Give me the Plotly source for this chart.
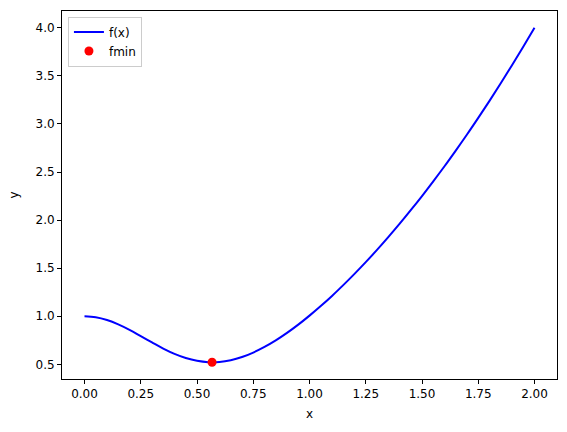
import plotly.graph_objects as go

x_vals = [0.00, 0.05, 0.10, 0.15, 0.20, 0.25, 0.30, 0.35, 0.40, 0.45,
          0.50, 0.55, 0.60, 0.65, 0.70, 0.75, 0.80, 0.85, 0.90, 0.95,
          1.00, 1.05, 1.10, 1.15, 1.20, 1.25, 1.30, 1.35, 1.40, 1.45,
          1.50, 1.55, 1.60, 1.65, 1.70, 1.75, 1.80, 1.85, 1.90, 1.95, 2.00]
f_vals = [1.000, 0.990, 0.961, 0.916, 0.859, 0.794, 0.728, 0.664, 0.609, 0.566,
          0.537, 0.523, 0.525, 0.543, 0.576, 0.623, 0.681, 0.749, 0.827, 0.913,
          1.007, 1.107, 1.212, 1.324, 1.441, 1.563, 1.690, 1.823, 1.960, 2.103,
          2.250, 2.403, 2.560, 2.723, 2.890, 3.063, 3.240, 3.423, 3.610, 3.803, 4.000]
xmin = [0.567]
fmin = [0.522]

x_ticks = [0.0, 0.25, 0.5, 0.75, 1.0, 1.25, 1.5, 1.75, 2.0]
x_ticklabels = ["0.00", "0.25", "0.50", "0.75", "1.00", "1.25", "1.50", "1.75", "2.00"]
y_ticks = [0.5, 1.0, 1.5, 2.0, 2.5, 3.0, 3.5, 4.0]
y_ticklabels = ["0.5", "1.0", "1.5", "2.0", "2.5", "3.0", "3.5", "4.0"]

fig = go.Figure()
fig.add_trace(go.Scatter(x=x_vals, y=f_vals, mode="lines", name="f(x)",
                         line=dict(color="blue", width=2, shape="spline")))
fig.add_trace(go.Scatter(x=xmin, y=fmin, mode="markers", name="fmin",
                         marker=dict(color="red", size=9)))

axis_common = dict(showline=True, linecolor="black", linewidth=1, mirror=True,
                   ticks="outside", ticklen=4, tickcolor="black", showgrid=False,
                   zeroline=False, automargin=False,
                   tickfont=dict(size=12, color="black"))

fig.update_layout(
    width=567, height=432,
    margin=dict(l=62, r=10, t=11, b=53),
    paper_bgcolor="white", plot_bgcolor="white",
    font=dict(family="DejaVu Sans", size=12, color="black"),
    showlegend=True,
    legend=dict(x=0.012, y=0.985, xanchor="left", yanchor="top",
                bgcolor="rgba(255,255,255,0.8)", bordercolor="#cccccc", borderwidth=1,
                font=dict(size=12), tracegroupgap=0),
    xaxis=dict(range=[-0.1, 2.1], tickvals=x_ticks, ticktext=x_ticklabels, **axis_common),
    yaxis=dict(range=[0.348, 4.174], tickvals=y_ticks, ticktext=y_ticklabels, **axis_common),
    annotations=[
        dict(text="x", xref="paper", yref="paper", x=0.5, y=-0.072, xanchor="center",
             yanchor="top", showarrow=False, font=dict(size=12)),
        dict(text="y", xref="paper", yref="paper", x=-0.078, y=0.5, xanchor="right",
             yanchor="middle", showarrow=False, textangle=-90, font=dict(size=12)),
    ],
)

fig.write_html("out.html", config={"displayModeBar": False},
               post_script="document.body.style.margin='0';")
